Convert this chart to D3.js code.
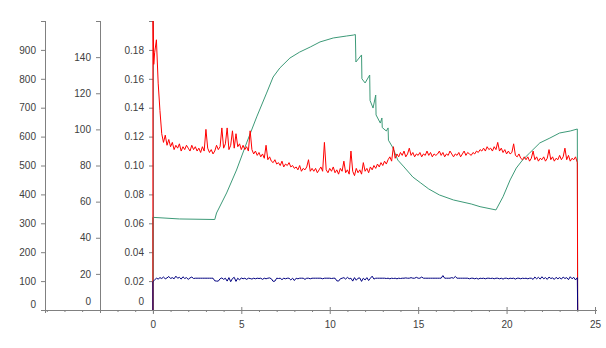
<!DOCTYPE html>
<html>
<head>
<meta charset="utf-8">
<script src="https://cdn.jsdelivr.net/npm/d3@7"></script>
<style>
  body { margin: 0; background: #fff; }
  svg { display: block; font-family: Arial, "Liberation Sans", sans-serif; }
</style>
</head>
<body>
<svg id="chart"></svg>
<script>
/*
 *  Data
 */
// red trace (right-most axis, 0 - 0.2), sampled every 0.1 from 0.1 to 24.0
var redStart = [[0, 0], [0, 0.21], [0.05, 0.17]];
var redValues = [
  0.178, 0.187, 0.157, 0.138, 0.122, 0.116, 0.121, 0.114, 0.118, 0.113,
  0.116, 0.111, 0.114, 0.112, 0.115, 0.110, 0.113, 0.111, 0.114, 0.112,
  0.110, 0.114, 0.111, 0.113, 0.110, 0.112, 0.109, 0.113, 0.110, 0.125,
  0.112, 0.109, 0.111, 0.108, 0.110, 0.114, 0.111, 0.113, 0.126, 0.112,
  0.115, 0.126, 0.111, 0.114, 0.124, 0.112, 0.122, 0.113, 0.115, 0.111,
  0.114, 0.111, 0.113, 0.110, 0.124, 0.111, 0.108, 0.110, 0.107, 0.109,
  0.106, 0.108, 0.105, 0.114, 0.104, 0.106, 0.103, 0.102, 0.104, 0.101,
  0.102, 0.100, 0.103, 0.099, 0.101, 0.100, 0.102, 0.099, 0.100, 0.098,
  0.099, 0.097, 0.100, 0.096, 0.098, 0.097, 0.099, 0.104, 0.096, 0.098,
  0.096, 0.098, 0.095, 0.097, 0.099, 0.096, 0.116, 0.097, 0.095, 0.098,
  0.096, 0.099, 0.095, 0.097, 0.094, 0.098, 0.096, 0.103, 0.095, 0.097,
  0.094, 0.110, 0.096, 0.093, 0.098, 0.095, 0.097, 0.094, 0.102, 0.096,
  0.098, 0.095, 0.099, 0.097, 0.100, 0.098, 0.101, 0.099, 0.102, 0.100,
  0.103, 0.101, 0.104, 0.106, 0.103, 0.113, 0.105, 0.108, 0.106, 0.109,
  0.107, 0.110, 0.106, 0.108, 0.112, 0.107, 0.109, 0.106, 0.108, 0.107,
  0.109, 0.106, 0.108, 0.107, 0.110, 0.107, 0.109, 0.106, 0.108, 0.107,
  0.108, 0.110, 0.107, 0.109, 0.106, 0.108, 0.107, 0.110, 0.108, 0.106,
  0.108, 0.107, 0.109, 0.106, 0.108, 0.110, 0.107, 0.109, 0.108, 0.107,
  0.109, 0.108, 0.110, 0.109, 0.111, 0.110, 0.112, 0.110, 0.113, 0.111,
  0.112, 0.110, 0.113, 0.111, 0.116, 0.110, 0.112, 0.109, 0.111, 0.108,
  0.110, 0.108, 0.109, 0.115, 0.107, 0.106, 0.108, 0.105, 0.104, 0.106,
  0.104, 0.106, 0.103, 0.105, 0.110, 0.104, 0.106, 0.103, 0.105, 0.104,
  0.106, 0.103, 0.105, 0.111, 0.104, 0.106, 0.103, 0.105, 0.104, 0.107,
  0.104, 0.106, 0.112, 0.104, 0.107, 0.103, 0.105, 0.104, 0.106, 0.102
];

// blue trace (left-most axis, 0 - 1000), same sampling
var blueValues = [
  104, 110, 107, 112, 109, 114, 108, 111, 116, 109,
  112, 108, 117, 110, 113, 107, 115, 109, 112, 106,
  111, 114, 109, 110, 110, 110, 110, 110, 110, 110,
  110, 110, 110, 110, 101, 100, 100, 108, 111, 106,
  110, 100, 112, 98, 109, 113, 99, 110, 104, 111,
  108, 110, 106, 110, 109, 107, 110, 108, 110, 109,
  110, 106, 110, 108, 110, 111, 108, 99, 100, 110,
  109, 110, 105, 110, 108, 110, 110, 104, 110, 102,
  110, 108, 110, 110, 110, 106, 110, 110, 108, 110,
  110, 110, 110, 110, 110, 108, 110, 110, 110, 110,
  109, 110, 110, 101, 100, 108, 110, 112, 107, 113,
  108, 110, 100, 112, 103, 110, 111, 99, 110, 104,
  112, 102, 110, 117, 107, 110, 110, 110, 110, 110,
  110, 109, 110, 108, 110, 109, 110, 108, 110, 109,
  110, 110, 111, 110, 110, 112, 110, 110, 113, 110,
  110, 114, 110, 110, 110, 110, 110, 110, 110, 110,
  110, 110, 110, 119, 110, 110, 110, 110, 112, 110,
  116, 110, 110, 110, 110, 110, 110, 110, 108, 110,
  110, 108, 110, 107, 110, 109, 110, 108, 110, 110,
  109, 110, 108, 110, 110, 108, 110, 107, 110, 110,
  108, 110, 109, 110, 107, 110, 110, 108, 110, 109,
  110, 108, 110, 110, 106, 114, 108, 113, 107, 115,
  108, 112, 106, 114, 109, 111, 106, 113, 108, 112,
  107, 114, 109, 112, 105, 115, 108, 113, 104, 112
];

// green trace (middle axis, 0 - 160)
var greenX = [0, 0, 1.5, 3.5, 3.6, 4.17, 4.73, 5.3, 5.87, 6.43, 6.8, 7.18, 7.75, 8.3,
  8.9, 9.45, 10.2, 10.96, 11.33, 11.45, 11.48, 11.8, 11.82, 12.0, 12.26, 12.28, 12.45,
  12.6, 12.62, 12.86, 12.95, 12.97, 13.2, 13.3, 13.32, 13.55, 13.85, 14.2, 14.7, 15.15,
  15.6, 16.2, 17.0, 18.0, 18.5, 19.4, 19.8, 20.2, 20.55, 20.9, 21.3, 21.88, 22.45, 23.0,
  23.6, 24.0, 24.02];
var greenValues = [0, 51.3, 50.4, 50.1, 53.7, 64.8, 77.5, 92.5, 106.9, 120.1, 129.0, 134.0,
  139.5, 142.8, 145.6, 148.4, 150.6, 151.7, 152.2, 152.5, 137.3, 141.2, 128, 125.7, 130.1,
  116, 111.8, 119.0, 108, 103.5, 106.3, 101, 99.1, 100.8, 94, 90.2, 83.0, 79.2, 73.6, 70.3,
  67.0, 63.7, 60.9, 58.7, 57.2, 55.4, 62.7, 72.0, 78.6, 83.0, 86.9, 92.5, 95.2, 98.0, 99.1,
  100.2, 0];

// axis ticks
var xMajor = [0, 5, 10, 15, 20, 25];
var xMinor = [-6, -5, -4, -2, -1, 1, 2, 3, 4, 6, 7, 8, 9, 11, 12, 13, 14, 16, 17, 18, 19, 21, 22, 23, 24];
var ticks1 = [0, 100, 200, 300, 400, 500, 600, 700, 800, 900, 1000];
var ticks2 = [0, 20, 40, 60, 80, 100, 120, 140, 160];
var ticks3 = [0, 0.02, 0.04, 0.06, 0.08, 0.1, 0.12, 0.14, 0.16, 0.18, 0.2];

/*
 *  Canvas
 */
var width = 606,
    height = 348,
    plotTop = 21,
    plotBottom = 310;

var svg = d3.select("#chart")
    .attr("width", width)
    .attr("height", height);

var x = d3.scaleLinear().domain([-6.1, 25]).range([45, 595]);
var y1 = d3.scaleLinear().domain([0, 1000]).range([plotBottom, plotTop]);
var y2 = d3.scaleLinear().domain([0, 160]).range([plotBottom, plotTop]);
var y3 = d3.scaleLinear().domain([0, 0.2]).range([plotBottom, plotTop]);

var axisColor = "#808080",
    textColor = "#404040";

// build point lists from the arrays
var redData = redStart.concat(redValues.map(function(v, i) { return [(i + 1) / 10, v]; }));
redData.push([24.02, 0]);
var blueData = [[0, 0], [0, 98]].concat(blueValues.map(function(v, i) { return [(i + 1) / 10, v]; }));
blueData.push([24.02, 0]);
var greenData = greenX.map(function(d, i) { return [d, greenValues[i]]; });

/*
 *  Axes
 */
function styleAxis(g) {
  g.select(".domain").remove();
  g.selectAll(".tick line").attr("stroke", axisColor);
  g.selectAll(".tick text")
    .attr("fill", textColor)
    .style("font-size", "10px");
}

function drawYAxis(scale, at, vals, fmt, zeroShift) {
  var max = vals[vals.length - 1];
  var g = svg.append("g")
    .attr("transform", "translate(" + Math.round(x(at)) + ",0)")
    .call(d3.axisLeft(scale)
      .tickValues(vals)
      .tickSize(4)
      .tickPadding(5)
      .tickFormat(function(d) { return d === max ? "" : fmt(d); }))
    .call(styleAxis);
  g.selectAll(".tick text")
    .filter(function(d) { return d === 0; })
    .attr("transform", "translate(0," + zeroShift + ")");
  g.append("line")
    .attr("x1", 0.5).attr("x2", 0.5)
    .attr("y1", plotTop).attr("y2", plotBottom + 3)
    .attr("stroke", axisColor);
}

drawYAxis(y1, -6.1, ticks1, d3.format("d"), -6);
drawYAxis(y2, -3, ticks2, d3.format("d"), -9);
drawYAxis(y3, 0, ticks3, function(d) { return d === 0 ? "0" : d3.format(".2f")(d); }, -9);

// x axis line
svg.append("line")
  .attr("x1", 45).attr("x2", 597)
  .attr("y1", plotBottom + 0.5).attr("y2", plotBottom + 0.5)
  .attr("stroke", axisColor);

// major ticks cross the line
var xAxis = svg.append("g")
  .attr("transform", "translate(0," + plotBottom + ")")
  .call(d3.axisBottom(x)
    .tickValues(xMajor)
    .tickSize(4)
    .tickPadding(7)
    .tickFormat(d3.format("d")))
  .call(styleAxis);
xAxis.selectAll(".tick line").attr("y1", -3);

// minor ticks are little dots under the line
svg.append("g")
  .attr("transform", "translate(0," + plotBottom + ")")
  .call(d3.axisBottom(x)
    .tickValues(xMinor)
    .tickSize(2)
    .tickFormat(""))
  .call(styleAxis);

/*
 *  Traces
 */
svg.append("clipPath")
  .attr("id", "plotClip")
  .append("rect")
    .attr("x", x(0) - 1).attr("y", plotTop)
    .attr("width", x(25) - x(0) + 2).attr("height", plotBottom - plotTop);

var plot = svg.append("g").attr("clip-path", "url(#plotClip)");

function trace(data, scale, color) {
  plot.append("path")
    .datum(data)
    .attr("d", d3.line()
      .x(function(d) { return x(d[0]); })
      .y(function(d) { return scale(d[1]); }))
    .style("fill", "none")
    .style("stroke", color)
    .style("stroke-width", "1px");
}

trace(greenData, y2, "#3d9a78");
trace(redData, y3, "#ff0000");
trace(blueData, y1, "#000080");
</script>
</body>
</html>
